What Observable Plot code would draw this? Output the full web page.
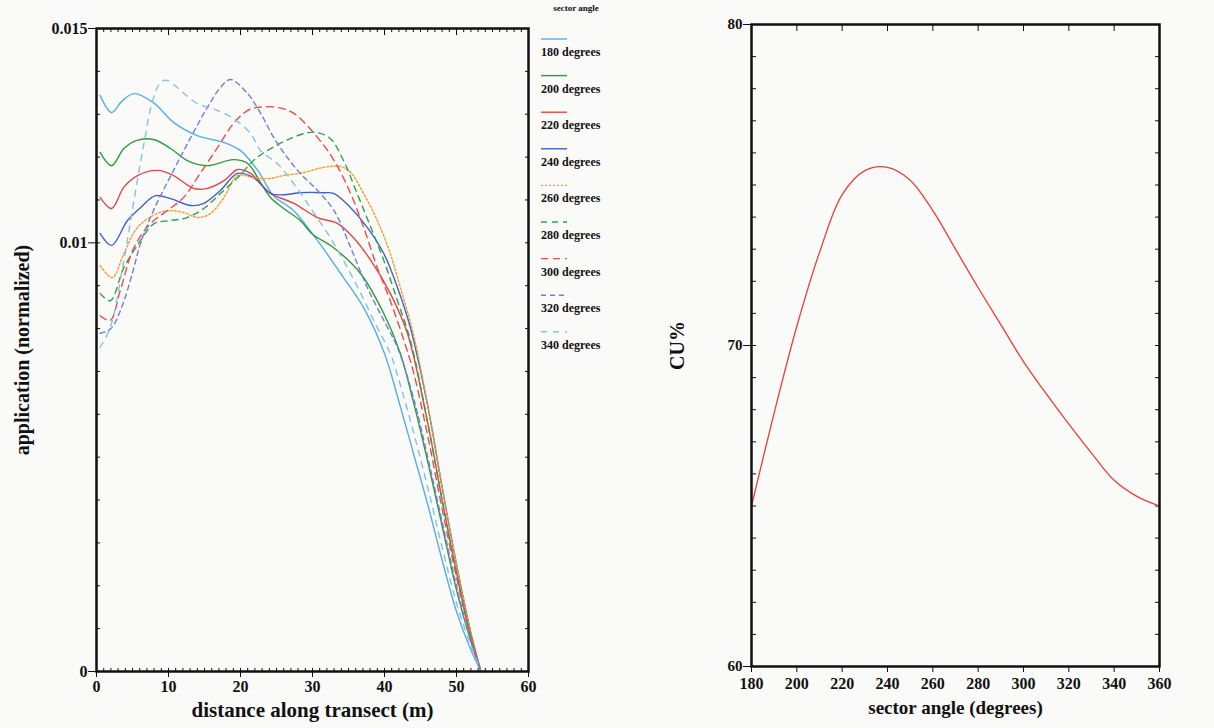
<!DOCTYPE html>
<html><head><meta charset="utf-8">
<script src="https://cdn.jsdelivr.net/npm/d3@7"></script>
<script src="https://cdn.jsdelivr.net/npm/@observablehq/plot@0.6"></script>
<style>
body{margin:0;background:#fafaf8;}
#wrap{position:relative;width:1214px;height:728px;overflow:hidden;font-family:"Liberation Serif","Times New Roman",serif;color:#111;}
#left{position:absolute;left:0;top:0}
#right{position:absolute;left:640px;top:0}
#legend{position:absolute;left:530px;top:0}
</style></head><body>
<div id="wrap"><div id="left"></div><div id="right"></div><div id="legend"></div></div>
<script>
// ---------- data: left chart (distance m, normalized application) ----------
const sectorAngles = [180, 200, 220, 240, 260, 280, 300, 320, 340];

const s180 = [[0.5,0.01344],[2.1,0.01304],[3.5,0.0133],[5.2,0.01348],[7.9,0.01327],[10.7,0.01281],[14.0,0.0125],[17.7,0.01234],[20.0,0.01215],[22.4,0.01169],[24.6,0.0111],[27.4,0.01075],[30.7,0.01005],[34.3,0.00919],[37.1,0.00849],[40,0.00742],[42,0.0063],[44,0.0051],[46,0.0039],[48,0.0026],[50,0.0014],[52,0.0005],[53.4,0]];
const s200 = [[0.5,0.01211],[2.1,0.0118],[3.8,0.0122],[5.6,0.01239],[7.9,0.01241],[10.3,0.0122],[12.6,0.01192],[15.4,0.0118],[19.0,0.01194],[21,0.01185],[22.8,0.0114],[24.2,0.01105],[26,0.0108],[28.3,0.01052],[30,0.0102],[32.9,0.00989],[36.7,0.00928],[39.9,0.00835],[42.2,0.00742],[44,0.0063],[46,0.0049],[48,0.0034],[50,0.0019],[52,0.0007],[53.4,0]];
const s220 = [[0.5,0.01106],[2.1,0.0108],[3.8,0.0113],[5.7,0.01157],[8.5,0.01169],[10.7,0.01157],[13.5,0.01127],[15.4,0.01127],[17.7,0.01145],[19.6,0.01171],[21.4,0.01162],[22.8,0.01138],[24.2,0.01115],[27.4,0.01092],[30.7,0.01059],[33.5,0.01045],[35.7,0.01012],[38.1,0.00959],[40.8,0.00882],[43.2,0.00788],[46,0.0058],[48,0.004],[50,0.0023],[52,0.0008],[53.4,0]];
const s240 = [[0.5,0.01022],[2.1,0.00994],[4.3,0.01052],[6.1,0.01082],[8.2,0.0111],[10.3,0.01103],[13.1,0.01087],[14.9,0.01092],[17.2,0.01122],[19.6,0.01162],[21.8,0.01152],[24.2,0.01115],[26,0.01112],[28.3,0.01117],[31.5,0.01117],[33,0.01115],[35.3,0.01082],[37.6,0.01036],[39.9,0.00975],[41.8,0.00896],[43.6,0.00802],[46,0.0062],[48,0.0043],[50,0.0025],[52,0.0009],[53.4,0]];
const s260 = [[0.5,0.00947],[2.2,0.00919],[3.8,0.00975],[5.7,0.01036],[7.9,0.01064],[9.8,0.01075],[12.1,0.01071],[14,0.01059],[15.8,0.01068],[17.7,0.01106],[19.6,0.01157],[21.8,0.01152],[24,0.0115],[26,0.01157],[28.8,0.01164],[31.5,0.01176],[33.9,0.01178],[35.3,0.01164],[37.1,0.01115],[39,0.01052],[40.8,0.00975],[42.2,0.00896],[44,0.00788],[46,0.0062],[48,0.0043],[50,0.0025],[52,0.0009],[53.4,0]];
const s280 = [[0.5,0.00882],[1.9,0.00865],[3.8,0.00942],[6.1,0.01005],[8,0.01045],[10.3,0.01052],[12.6,0.01059],[14.9,0.0108],[17.2,0.01115],[19.6,0.01152],[22,0.01195],[24.2,0.0122],[26.9,0.01243],[29.3,0.01257],[30.7,0.01257],[32.5,0.01243],[34.3,0.01192],[36.2,0.01115],[38.1,0.01036],[39.9,0.00959],[41.8,0.00865],[43.6,0.00772],[46,0.0058],[48,0.004],[50,0.0023],[52,0.0008],[53.4,0]];
const s300 = [[0.5,0.0083],[1.9,0.00819],[3.3,0.00889],[5.2,0.00989],[7.5,0.01045],[9.8,0.01075],[12.1,0.01106],[14.4,0.01162],[16.8,0.01222],[19,0.01278],[21,0.01309],[22.4,0.01316],[25.1,0.01316],[27.4,0.01302],[30.7,0.01246],[33,0.01192],[35.3,0.01115],[37.1,0.01036],[39,0.00942],[40.8,0.00865],[42.7,0.00772],[44,0.007],[46,0.0055],[48,0.0038],[50,0.0022],[52,0.0008],[53.4,0]];
const s320 = [[0.5,0.00789],[2,0.008],[3.5,0.0085],[5,0.0093],[6.1,0.00998],[7.9,0.01075],[10.7,0.01169],[13.1,0.01246],[15.4,0.01316],[17.2,0.01362],[18.6,0.01381],[21,0.01348],[22.8,0.01302],[24.6,0.01246],[26.5,0.01199],[28.3,0.01162],[30.7,0.01122],[33,0.01075],[35.3,0.00989],[37.6,0.00896],[39.9,0.00819],[41.8,0.00756],[44,0.0064],[46,0.005],[48,0.0035],[50,0.002],[52,0.0007],[53.4,0]];
const s340 = [[0.5,0.00756],[1.9,0.00802],[3.8,0.00959],[5.2,0.01099],[6.6,0.01232],[7.8,0.01332],[8.9,0.01374],[9.8,0.01379],[11.7,0.01355],[14,0.01325],[16.8,0.01309],[19,0.0129],[21.4,0.01255],[22.8,0.01215],[25.1,0.01185],[27.4,0.01138],[29.7,0.01082],[32.1,0.01022],[34.3,0.00959],[36.7,0.00882],[39,0.00802],[40.8,0.00742],[42,0.0068],[44,0.0056],[46,0.0043],[48,0.0029],[50,0.0016],[52,0.0006],[53.4,0]];

const distanceTicks = [0, 10, 20, 30, 40, 50, 60];
const applicationTicks = [0, 0.01, 0.015];

// ---------- data: right chart (sector angle, CU %) ----------
const cuAngles = [180,190,200,210,220,230,240,250,260,270,280,290,300,310,320,330,340,350,360];
const cuValues = [65.0,67.9,70.6,72.9,74.7,75.45,75.55,75.15,74.2,73.0,71.8,70.65,69.5,68.5,67.55,66.65,65.8,65.3,65.0];
const angleTicks = [180,200,220,240,260,280,300,320,340,360];
const cuTicks = [60, 70, 80];

// ---------- styles ----------
const fontFam = '"Liberation Serif", "Times New Roman", serif';
const seriesList = [s180, s200, s220, s240, s260, s280, s300, s320, s340];
const seriesColors = ["#58aee6","#2e9a3e","#e0484a","#4262c6","#f0a030","#2fa24a","#ee4c4c","#6f80d8","#86c0e2"];
const seriesDashes = [null,null,null,null,"2,2","6,5","7,5","5,4","6,6"];

// ---------- left chart ----------
const leftMarks = [
  Plot.axisY(d3.range(0, 0.01505, 0.001), {anchor: "left", tickSize: -4, tickFormat: () => "", label: null}),
  Plot.axisY(d3.range(0, 0.01505, 0.001), {anchor: "right", tickSize: -4, tickFormat: () => "", label: null}),
  Plot.axisY(applicationTicks, {anchor: "left", tickSize: 8, tickPadding: 1, fontSize: 16, tickFormat: d => String(d), label: null}),
  Plot.axisX(d3.range(0, 61, 1), {anchor: "top", tickSize: -3, tickFormat: () => "", label: null}),
  Plot.axisX(distanceTicks, {anchor: "top", tickSize: -6, tickFormat: () => "", label: null}),
  Plot.axisX(d3.range(0, 61, 1), {anchor: "bottom", tickSize: -3, tickFormat: () => "", label: null}),
  Plot.axisX(distanceTicks, {anchor: "bottom", tickSize: 6, tickPadding: 3, fontSize: 16, label: null}),
];
seriesList.forEach((s, i) => {
  leftMarks.push(Plot.line(s, {
    x: d => d[0], y: d => d[1], curve: "catmull-rom",
    stroke: seriesColors[i], strokeWidth: 1.4,
    strokeDasharray: seriesDashes[i] || undefined
  }));
});
leftMarks.push(Plot.frame({strokeWidth: 2.5}));
leftMarks.push(Plot.text(["application (normalized)"], {text: d => d, frameAnchor: "left", textAnchor: "middle", rotate: -90, dx: -74, fontSize: 20}));
leftMarks.push(Plot.text(["distance along transect (m)"], {text: d => d, frameAnchor: "bottom", textAnchor: "middle", dy: 45, fontSize: 21}));

const left = Plot.plot({
  width: 640, height: 728,
  marginLeft: 96, marginRight: 112, marginTop: 28, marginBottom: 57,
  style: {fontFamily: fontFam, fontSize: "16px", fontWeight: "bold", background: "transparent", color: "#111", overflow: "visible"},
  x: {domain: [0, 60]},
  y: {domain: [0, 0.015]},
  marks: leftMarks
});
document.getElementById("left").appendChild(left);

// ---------- legend ----------
const leg = d3.select("#legend").append("svg")
  .attr("width", 100).attr("height", 360)
  .style("font-family", fontFam).style("font-weight", "bold");
leg.append("text").attr("x", 46).attr("y", 11).attr("text-anchor", "middle")
  .attr("font-size", 9).attr("fill", "#111").text("sector angle");
sectorAngles.forEach((a, i) => {
  const y0 = 39 + i * 36.6;
  leg.append("line").attr("x1", 11).attr("x2", 37).attr("y1", y0).attr("y2", y0)
    .attr("stroke", seriesColors[i]).attr("stroke-width", 1.4)
    .attr("stroke-dasharray", seriesDashes[i]);
  leg.append("text").attr("x", 11).attr("y", y0 + 17).attr("font-size", 12)
    .attr("fill", "#111").text(a + " degrees");
});

// ---------- right chart ----------
const cuRows = cuAngles.map((a, i) => ({angle: a, cu: cuValues[i]}));
const right = Plot.plot({
  width: 574, height: 728,
  marginLeft: 111, marginRight: 55, marginTop: 24, marginBottom: 62,
  style: {fontFamily: fontFam, fontSize: "16px", fontWeight: "bold", background: "transparent", color: "#111", overflow: "visible"},
  x: {domain: [180, 360]},
  y: {domain: [60, 80]},
  marks: [
    Plot.axisY(d3.range(60, 81, 1), {anchor: "left", tickSize: -5, tickFormat: () => "", label: null}),
    Plot.axisY(d3.range(60, 81, 1), {anchor: "right", tickSize: -5, tickFormat: () => "", label: null}),
    Plot.axisY(cuTicks, {anchor: "left", tickSize: 8, tickPadding: 1, fontSize: 15, label: null}),
    Plot.axisX(angleTicks, {anchor: "top", tickSize: -6, tickFormat: () => "", label: null}),
    Plot.axisX(angleTicks, {anchor: "bottom", tickSize: 6, tickPadding: 5, fontSize: 16, label: null}),
    Plot.line(cuRows, {x: "angle", y: "cu", curve: "catmull-rom", stroke: "#e8403c", strokeWidth: 1.3}),
    Plot.frame({strokeWidth: 2.5}),
    Plot.text(["CU%"], {text: d => d, frameAnchor: "left", textAnchor: "middle", rotate: -90, dx: -74, fontSize: 20}),
    Plot.text(["sector angle (degrees)"], {text: d => d, frameAnchor: "bottom", textAnchor: "middle", dy: 47, fontSize: 19})
  ]
});
document.getElementById("right").appendChild(right);
</script>
</body></html>
